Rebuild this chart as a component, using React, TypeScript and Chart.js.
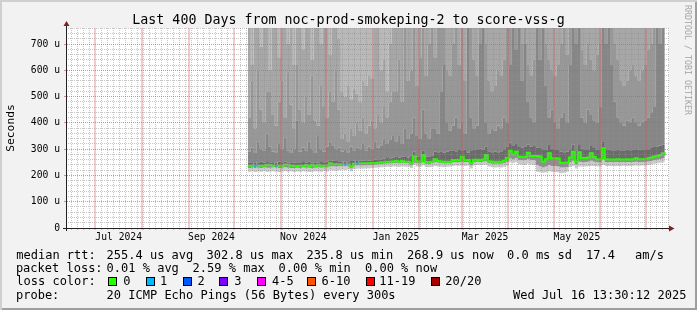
import { useEffect, useRef } from 'react';
import { Chart, registerables } from 'chart.js';

Chart.register(...registerables);

const FONT_MONO = "'DejaVu Sans Mono', monospace";

// ---- time frame ----
const START_MS = Date.UTC(2024, 5, 11, 13, 30, 12);
const RANGE_DAYS = 400;
const SAMPLE_START_DAY = 120.6;
const SAMPLE_STEP_DAYS = 1.99;
const Y_MAX = 761;

// ---- axis labels ----
const xLabelText = ['Jul 2024', 'Sep 2024', 'Nov 2024', 'Jan 2025', 'Mar 2025', 'May 2025'];
const xLabelYear = [2024, 2024, 2024, 2025, 2025, 2025];
const xLabelMonth = [6, 8, 10, 0, 2, 4];

// ---- series (microseconds) ----
const medianRtt = [
  237, 237, 238, 237, 237, 237, 241, 240, 237, 237,
  237, 237, 242, 241, 237, 236, 236, 237, 236, 240,
  236, 241, 236, 241, 237, 237, 238, 246, 243, 243,
  243, 242, 243, 242, 234, 244, 245, 246, 246, 246,
  246, 247, 246, 248, 250, 250, 252, 252, 253, 255,
  252, 255, 252, 252, 246, 272, 254, 252, 278, 251,
  250, 252, 262, 255, 253, 252, 252, 252, 259, 259,
  258, 271, 259, 259, 246, 260, 260, 259, 261, 278,
  254, 252, 252, 252, 252, 256, 266, 294, 280, 290,
  271, 271, 271, 286, 274, 274, 274, 272, 252, 262,
  284, 265, 265, 264, 248, 248, 249, 268, 290, 253,
  288, 266, 266, 268, 284, 270, 262, 262, 303, 262,
  261, 261, 261, 262, 261, 261, 262, 261, 262, 265,
  262, 262, 263, 265, 268, 272, 274, 278, 284, 276,
];

const lossCount = [
  0, 0, 1, 0, 0, 0, 0, 0, 0, 1,
  0, 0, 0, 0, 0, 0, 0, 0, 0, 0,
  0, 0, 0, 0, 0, 0, 0, 0, 0, 0,
  0, 0, 1, 0, 0, 0, 1, 0, 0, 0,
  0, 0, 0, 0, 0, 0, 0, 0, 0, 0,
  0, 0, 0, 0, 0, 0, 0, 0, 0, 0,
  0, 0, 0, 0, 0, 0, 0, 0, 0, 0,
  0, 0, 0, 0, 0, 0, 0, 0, 0, 0,
  0, 0, 0, 0, 0, 0, 0, 0, 0, 0,
  0, 0, 0, 0, 0, 0, 0, 0, 0, 0,
  0, 0, 0, 0, 0, 0, 0, 0, 0, 0,
  0, 0, 0, 0, 0, 0, 0, 0, 0, 0,
  0, 0, 0, 0, 0, 0, 0, 0, 0, 0,
  0, 0, 0, 0, 0, 0, 0, 0, 0, 0,
];

const pingMin = [
  214, 216, 213, 215, 214, 217, 213, 215, 216, 214,
  213, 215, 217, 214, 216, 213, 215, 214, 216, 215,
  213, 214, 216, 215, 214, 217, 215, 220, 219, 218,
  220, 222, 221, 223, 216, 224, 225, 226, 225, 227,
  226, 228, 229, 230, 231, 232, 233, 232, 234, 234,
  232, 235, 233, 233, 228, 240, 234, 233, 238, 232,
  231, 233, 236, 234, 233, 232, 233, 234, 236, 238,
  237, 238, 236, 238, 226, 238, 240, 239, 240, 241,
  234, 231, 230, 231, 230, 233, 238, 250, 246, 250,
  242, 241, 240, 244, 242, 240, 214, 212, 210, 212,
  216, 214, 213, 212, 208, 210, 214, 232, 236, 226,
  234, 234, 234, 235, 236, 236, 235, 234, 240, 236,
  236, 236, 235, 236, 236, 237, 236, 236, 237, 238,
  237, 238, 238, 240, 242, 244, 246, 248, 250, 246,
];

const pingLow = [
  228, 229, 228, 229, 228, 230, 229, 229, 230, 229,
  228, 229, 231, 229, 228, 228, 229, 228, 230, 229,
  229, 228, 229, 230, 229, 230, 230, 236, 235, 234,
  235, 236, 235, 236, 226, 237, 238, 238, 238, 239,
  239, 240, 241, 242, 243, 244, 245, 245, 246, 247,
  245, 248, 246, 246, 238, 248, 246, 245, 250, 244,
  243, 246, 250, 248, 246, 245, 245, 245, 250, 250,
  250, 252, 250, 251, 238, 251, 252, 251, 252, 254,
  246, 244, 244, 244, 244, 246, 252, 266, 262, 266,
  258, 258, 258, 262, 258, 258, 240, 234, 230, 234,
  240, 236, 236, 234, 230, 230, 232, 250, 256, 242,
  252, 250, 250, 252, 256, 252, 250, 249, 262, 250,
  250, 250, 250, 251, 250, 250, 251, 250, 251, 252,
  251, 251, 252, 253, 255, 258, 260, 263, 266, 262,
];

const pingUpper1 = [
  248, 247, 250, 249, 252, 248, 251, 250, 247, 249,
  252, 250, 253, 249, 247, 248, 250, 247, 251, 249,
  252, 248, 250, 249, 251, 250, 253, 258, 256, 255,
  254, 252, 252, 250, 255, 256, 255, 257, 256, 258,
  257, 258, 260, 262, 262, 264, 266, 265, 268, 270,
  268, 272, 270, 268, 275, 290, 272, 270, 295, 272,
  270, 274, 290, 288, 292, 286, 290, 294, 296, 292,
  300, 296, 298, 286, 296, 298, 300, 302, 298, 310,
  292, 288, 290, 288, 292, 300, 310, 325, 315, 320,
  308, 306, 308, 318, 310, 312, 306, 304, 300, 298,
  316, 302, 300, 298, 290, 288, 290, 300, 318, 296,
  316, 302, 300, 300, 312, 304, 298, 298, 330, 300,
  298, 296, 296, 298, 296, 296, 298, 296, 298, 300,
  298, 298, 300, 300, 304, 308, 310, 314, 318, 312,
];

const pingUpper2 = [
  290, 305, 285, 330, 300, 295, 360, 310, 290, 285,
  320, 300, 345, 295, 285, 300, 410, 290, 305, 295,
  330, 300, 285, 350, 300, 290, 310, 330, 315, 300,
  305, 290, 300, 285, 310, 295, 305, 300, 320, 295,
  310, 300, 330, 305, 315, 340, 320, 335, 350, 330,
  350, 320, 380, 340, 360, 420, 350, 340, 450, 360,
  340, 380, 380, 360, 520, 620, 400, 370, 390, 420,
  380, 400, 360, 761, 420, 380, 390, 700, 761, 400,
  360, 380, 370, 390, 380, 420, 400, 620, 761, 680,
  761, 560, 700, 480, 420, 400, 761, 640, 761, 540,
  420, 450, 400, 380, 420, 440, 400, 620, 761, 700,
  761, 420, 400, 450, 430, 410, 400, 460, 761, 700,
  761, 620, 480, 420, 400, 390, 410, 400, 420, 400,
  390, 400, 410, 420, 440, 460, 761, 700, 761, 560,
];

const pingUpper3 = [
  420, 560, 380, 600, 450, 400, 520, 520, 430, 390,
  480, 560, 420, 590, 470, 380, 620, 450, 400, 500,
  430, 580, 410, 390, 540, 460, 420, 520, 480, 600,
  450, 340, 360, 330, 380, 350, 400, 370, 420, 360,
  390, 410, 380, 430, 400, 460, 420, 480, 520, 520,
  640, 480, 761, 560, 600, 761, 540, 650, 761, 580,
  700, 761, 650, 761, 761, 761, 600, 580, 700, 761,
  620, 761, 560, 761, 761, 640, 580, 761, 761, 700,
  560, 520, 540, 600, 580, 640, 761, 761, 761, 761,
  761, 700, 761, 620, 580, 640, 761, 761, 761, 700,
  640, 600, 580, 620, 700, 761, 660, 761, 761, 761,
  761, 680, 620, 700, 640, 600, 660, 700, 761, 761,
  761, 761, 700, 640, 560, 540, 560, 600, 620, 580,
  560, 600, 620, 680, 700, 761, 761, 761, 761, 761,
];

const pingUpper4 = [
  761, 620, 761, 761, 690, 761, 761, 600, 761, 761,
  650, 761, 761, 700, 761, 620, 761, 761, 680, 761,
  761, 640, 761, 761, 700, 761, 761, 660, 761, 761,
  720, 520, 500, 540, 490, 530, 510, 480, 560, 540,
  580, 570, 761, 761, 600, 640, 520, 700, 761, 761,
  761, 761, 761, 761, 761, 761, 761, 761, 761, 761,
  761, 761, 761, 761, 761, 761, 761, 761, 761, 761,
  761, 761, 761, 761, 761, 761, 761, 761, 761, 761,
  761, 761, 761, 761, 761, 761, 761, 761, 761, 761,
  761, 761, 761, 761, 761, 761, 761, 761, 761, 761,
  761, 761, 761, 761, 761, 761, 761, 761, 761, 761,
  761, 761, 761, 761, 761, 761, 761, 761, 761, 761,
  761, 761, 761, 761, 761, 761, 761, 761, 761, 761,
  761, 761, 761, 761, 761, 761, 761, 761, 761, 761,
];

// ---- legend text ----
const titleText = 'Last 400 Days from noc-prod-smokeping-2 to score-vss-g';
const medianStats = ['median rtt:', '255.4 us avg', '302.8 us max', '235.8 us min', '268.9 us now', '0.0 ms sd', '17.4', 'am/s'];
const lossStats = ['packet loss:', '0.01 % avg', '2.59 % max', '0.00 % min', '0.00 % now'];
const lossLabels = ['0', '1', '2', '3', '4-5', '6-10', '11-19', '20/20'];
const lossColors = ['#26ff00', '#00b8ff', '#0059ff', '#7e00ff', '#ff00fe', '#ff5500', '#ff0000', '#a80000'];
const probeText = ['probe:', '20 ICMP Echo Pings (56 Bytes) every 300s', 'Wed Jul 16 13:30:12 2025'];

// ---- layout (pixels) ----
const medianStatX = [16.3, 106.6, 206.6, 306.6, 407, 507, 586, 635];
const lossStatX = [15.9, 106.6, 192.6, 278.6, 365];
const swatchX = [108, 145.5, 182.5, 219, 256.5, 306.5, 365.5, 430.5];
const swatchLabelX = [123.3, 160, 197.6, 234.3, 272, 321.6, 379.3, 445.3];
const probeX = [16, 106.6, 513];
const rowTop = [248.6, 261.9, 275.3, 288.6];

const GRID = 'rgba(143,143,143,0.5)';
const MGRID = 'rgba(222,79,79,0.65)';
const MGRID_V = 'rgba(222,79,79,0.3)';

const dayOf = (ms: number) => (ms - START_MS) / 86400000;

const monthStartDays: number[] = [];
for (let i = 0; i <= 12; i++) monthStartDays.push(dayOf(Date.UTC(2024, 6 + i, 1)));

const minorDays: number[] = [];
{
  const e0 = Math.ceil(START_MS / 86400000);
  for (let e = e0; dayOf(e * 86400000) <= RANGE_DAYS; e++) {
    if (((e % 4) + 4) % 4 === 1) {
      const d = dayOf(e * 86400000);
      if (!monthStartDays.some((m) => Math.abs(m - d) < 0.01)) minorDays.push(d);
    }
  }
}

const xLabelDays = xLabelText.map((_, i) => {
  const a = dayOf(Date.UTC(xLabelYear[i], xLabelMonth[i], 1));
  const b = dayOf(Date.UTC(xLabelYear[i], xLabelMonth[i] + 1, 1));
  return (a + b) / 2;
});

const yMinorTicks: number[] = [];
for (let v = 20; v <= 760; v += 20) if (v % 100 !== 0) yMinorTicks.push(v);
const yMajorTicks: number[] = [];
for (let v = 0; v <= 700; v += 100) yMajorTicks.push(v);

const lossBucket = (n: number) => (n <= 3 ? n : n <= 5 ? 4 : n <= 10 ? 5 : n < 20 ? 6 : 7);

const sampleDays = medianRtt.map((_, i) => SAMPLE_START_DAY + i * SAMPLE_STEP_DAYS);
const toPoints = (arr: number[]) => arr.map((y, i) => ({ x: sampleDays[i], y }));

const band = (label: string, arr: number[], fill: any, color: string) => ({
  label,
  data: toPoints(arr),
  fill,
  backgroundColor: color,
  borderColor: 'rgba(0,0,0,0)',
  borderWidth: 0,
  pointRadius: 0,
  stepped: true,
  order: 1,
});

const decorPlugin = {
  id: 'rrdDecor',
  beforeDraw(chart: any) {
    const { ctx, chartArea: a } = chart;
    ctx.save();
    ctx.fillStyle = '#ffffff';
    ctx.fillRect(a.left, a.top, a.right - a.left, a.bottom - a.top);
    ctx.restore();
  },
  afterDraw(chart: any) {
    const { ctx, chartArea: a } = chart;
    const ax = Math.floor(a.left) + 0.5;
    const ay = Math.floor(a.bottom) + 0.5;
    ctx.save();
    ctx.strokeStyle = '#212121';
    ctx.lineWidth = 1;
    ctx.beginPath();
    ctx.moveTo(ax, a.top);
    ctx.lineTo(ax, a.top - 3);
    ctx.moveTo(ax, a.bottom);
    ctx.lineTo(ax, a.bottom + 3);
    ctx.moveTo(a.left - 3, ay);
    ctx.lineTo(a.left, ay);
    ctx.moveTo(a.right - 1, ay);
    ctx.lineTo(a.right + 1, ay);
    ctx.stroke();
    ctx.fillStyle = '#7f1f1f';
    ctx.beginPath();
    ctx.moveTo(ax - 3, a.top - 2);
    ctx.lineTo(ax + 3, a.top - 2);
    ctx.lineTo(ax, a.top - 7);
    ctx.closePath();
    ctx.fill();
    ctx.beginPath();
    ctx.moveTo(a.right, ay - 3);
    ctx.lineTo(a.right, ay + 3);
    ctx.lineTo(a.right + 5.5, ay);
    ctx.closePath();
    ctx.fill();
    ctx.restore();
  },
};

const gridAxisX = (ticks: number[], color: string, withBorder: boolean, dash: number[], width: number) => ({
  type: 'linear',
  position: 'bottom',
  min: 0,
  max: RANGE_DAYS,
  afterBuildTicks: (s: any) => {
    s.ticks = ticks.map((v) => ({ value: v }));
  },
  afterFit: (s: any) => {
    s.height = 0;
  },
  ticks: { display: false, autoSkip: false },
  grid: { z: 1, lineWidth: width, color, drawTicks: true, tickLength: 2, tickColor: color, tickWidth: width },
  border: { display: withBorder, color: '#212121', width: 1, dash, z: 2 },
});

const gridAxisY = (ticks: number[], color: string) => ({
  type: 'linear',
  position: 'left',
  min: 0,
  max: Y_MAX,
  afterBuildTicks: (s: any) => {
    s.ticks = ticks.map((v) => ({ value: v }));
  },
  afterFit: (s: any) => {
    s.width = 0;
  },
  ticks: { display: false, autoSkip: false },
  grid: { z: 1, lineWidth: 1, color, drawTicks: true, tickLength: 2, tickColor: color },
  border: { display: false, dash: [1, 1] },
});

export default function App() {
  const canvasRef = useRef<HTMLCanvasElement | null>(null);

  useEffect(() => {
    const canvas = canvasRef.current;
    if (!canvas) return;
    const datasets: any[] = [
      band('min', pingMin, false, 'rgba(0,0,0,0)'),
      band('low', pingLow, '-1', '#cbcbcb'),
      {
        label: 'median rtt',
        data: toPoints(medianRtt),
        fill: '-1',
        backgroundColor: '#8f8f8f',
        borderColor: lossColors[0],
        borderWidth: 2,
        pointRadius: 0,
        stepped: true,
        order: 0,
        borderCapStyle: 'butt',
        segment: {
          borderColor: (c: any) => lossColors[lossBucket(lossCount[c.p0DataIndex] || 0)],
        },
      },
      band('u1', pingUpper1, '-1', '#6b6b6b'),
      band('u2', pingUpper2, '-1', '#868686'),
      band('u3', pingUpper3, '-1', '#989898'),
      band('u4', pingUpper4, '-1', '#a7a7a7'),
      band('max', pingUpper4, 'end', '#b9b9b9'),
    ];

    const chart = new Chart(canvas, {
      type: 'line',
      data: { datasets },
      plugins: [decorPlugin],
      options: {
        animation: false,
        responsive: false,
        devicePixelRatio: 1,
        events: [],
        layout: { padding: { top: 28, right: 28, left: 0, bottom: 0 } },
        plugins: {
          legend: { display: false },
          tooltip: { enabled: false },
          title: { display: false },
        },
        elements: { point: { radius: 0 }, line: { tension: 0 } },
        scales: {
          x: gridAxisX(minorDays, GRID, true, [1, 1], 1),
          xm: gridAxisX(monthStartDays, MGRID_V, false, [], 2),
          xl: {
            type: 'linear',
            position: 'bottom',
            min: 0,
            max: RANGE_DAYS,
            afterBuildTicks: (s: any) => {
              s.ticks = xLabelDays.map((v) => ({ value: v }));
            },
            afterFit: (s: any) => {
              s.height = 82;
            },
            ticks: {
              autoSkip: false,
              maxRotation: 0,
              minRotation: 0,
              padding: 4,
              color: '#000',
              font: { family: FONT_MONO, size: 9.7 },
              callback: (_v: any, i: number) => xLabelText[i],
            },
            grid: { display: false, drawTicks: false },
            border: { display: false },
          },
          y: {
            type: 'linear',
            position: 'left',
            min: 0,
            max: Y_MAX,
            afterBuildTicks: (s: any) => {
              s.ticks = yMajorTicks.map((v) => ({ value: v }));
            },
            afterFit: (s: any) => {
              s.width = 66;
            },
            ticks: {
              autoSkip: false,
              padding: 4,
              color: '#000',
              font: { family: FONT_MONO, size: 9.7 },
              callback: (v: any) => (v === 0 ? '0' : `${v} u`),
            },
            grid: {
              z: 1,
              lineWidth: 1,
              color: (c: any) => (c.tick && c.tick.value === 0 ? 'rgba(0,0,0,0)' : MGRID),
              drawTicks: true,
              tickLength: 2,
              tickColor: MGRID,
            },
            border: { display: true, color: '#212121', width: 1, dash: [1, 1], z: 2 },
            title: {
              display: true,
              text: 'Seconds',
              color: '#000',
              font: { family: FONT_MONO, size: 11.3 },
              padding: { top: 4, bottom: 0 },
            },
          },
          ym: gridAxisY(yMinorTicks, GRID),
        },
      } as any,
    });
    return () => chart.destroy();
  }, []);

  const txt = (text: string, left: number, top: number, key: string) => (
    <span
      key={key}
      style={{
        position: 'absolute',
        left,
        top,
        fontFamily: FONT_MONO,
        fontSize: 12,
        lineHeight: '12px',
        whiteSpace: 'pre',
        color: '#000',
      }}
    >
      {text}
    </span>
  );

  return (
    <div
      style={{
        position: 'absolute',
        left: 0,
        top: 0,
        width: 697,
        height: 310,
        background: '#f2f2f2',
        boxShadow: 'inset 2px 2px 0 #cfcfcf, inset -2px -2px 0 #9e9e9e',
        overflow: 'hidden',
      }}
    >
      <canvas ref={canvasRef} width={697} height={310} style={{ position: 'absolute', left: 0, top: 0 }} />
      <div
        style={{
          position: 'absolute',
          left: 0,
          top: 13.3,
          width: 697,
          textAlign: 'center',
          fontFamily: FONT_MONO,
          fontSize: 13.3,
          lineHeight: '13.3px',
          whiteSpace: 'pre',
          color: '#000',
        }}
      >
        {titleText}
      </div>
      {medianStats.map((t, i) => txt(t, medianStatX[i], rowTop[0], 'm' + i))}
      {lossStats.map((t, i) => txt(t, lossStatX[i], rowTop[1], 'l' + i))}
      {txt('loss color:', 16.3, rowTop[2], 'lc')}
      {lossLabels.map((t, i) => (
        <span
          key={'sw' + i}
          style={{
            position: 'absolute',
            left: swatchX[i],
            top: 277,
            width: 9,
            height: 9,
            boxSizing: 'border-box',
            border: '1px solid #000',
            background: lossColors[i],
          }}
        />
      ))}
      {lossLabels.map((t, i) => txt(t, swatchLabelX[i], rowTop[2], 'sl' + i))}
      {probeText.map((t, i) => txt(t, probeX[i], rowTop[3], 'p' + i))}
      <div
        style={{
          position: 'absolute',
          left: 691.5,
          top: 5,
          transform: 'rotate(90deg)',
          transformOrigin: '0 0',
          fontFamily: FONT_MONO,
          fontSize: 8.3,
          lineHeight: '8.3px',
          whiteSpace: 'pre',
          color: '#a6a6a6',
        }}
      >
        RRDTOOL / TOBI OETIKER
      </div>
    </div>
  );
}
